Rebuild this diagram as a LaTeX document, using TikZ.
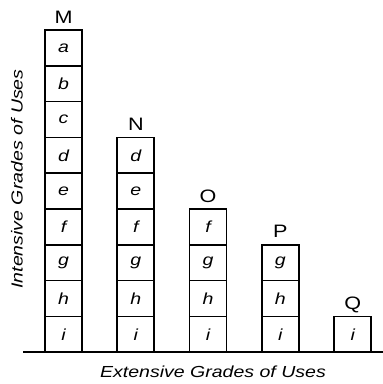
\documentclass[tikz,border=0pt]{standalone}
\usepackage{graphicx}
\usepackage{fontspec}
\setmainfont{Liberation Sans}
\newcommand{\wideit}[1]{\scalebox{1.22}[1]{\itshape #1}}
\newcommand{\widerm}[1]{\scalebox{1.2}[1]{#1}}
\begin{document}
\begin{tikzpicture}[x=1pt,y=-1pt,
  box/.style={draw, line width=1.7pt, minimum width=37pt, minimum height=35.8pt, inner sep=0pt, font=\fontsize{16}{16}\selectfont},
  colhead/.style={font=\fontsize{18}{18}\selectfont, anchor=base},
  axlabel/.style={font=\fontsize{16}{16}\selectfont}]
\useasboundingbox (0,0) rectangle (383,384);
\foreach \col/\start [count=\c from 0] in {M/1,N/4,O/6,P/7,Q/9} {
  \foreach \lab [count=\k] in {a,b,c,d,e,f,g,h,i} {
    \ifnum\k<\start\relax\else
      \node[box] (\col-\lab) at ({63.5+72.3*\c}, {30+(\k-0.5)*35.8}) {\wideit{\lab}};
    \fi
  }
  \node[colhead] (head-\col) at ({63.5+72.3*\c}, {30+(\start-1)*35.8-7}) {\widerm{\col}};
}
\coordinate (ax0) at (23,352);
\coordinate (ax1) at (383,352);
\draw[line width=1.8pt] (ax0) -- (ax1);
\node[axlabel, rotate=90] (ylab) at (17,179) {\wideit{Intensive Grades of Uses}};
\node[axlabel] (xlab) at (213,372) {\wideit{Extensive Grades of Uses}};
\end{tikzpicture}
\end{document}
